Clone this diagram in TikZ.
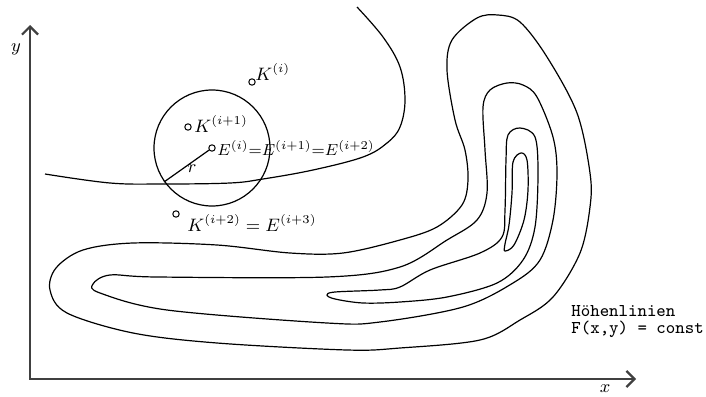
\documentclass[tikz,border=0pt]{standalone}
\usepackage{amsmath}
\usepackage{tikz}
\usetikzlibrary{positioning,arrows.meta}

\begin{document}
\begin{tikzpicture}[x=0.5pt,y=-0.5pt,font=\small,
  contour/.style={line width=0.6pt},
  axis/.style={line width=1.1pt,black!75,arrows={Straight Barb[length=4pt,width=8pt]-Straight Barb[length=4pt,width=8pt]}},
  marker/.style={circle,draw,line width=0.5pt,inner sep=0pt,minimum size=3.2pt},
  lbl/.style={inner sep=0pt,anchor=base west}]
  \useasboundingbox (0,0) rectangle (706,396);
  % axes
  \coordinate (O) at (30,379);
  \coordinate (ytop) at (30,25);
  \coordinate (xend) at (636,379);
  \draw[axis] (ytop) -- (O) -- (xend);
  \node (ylab) at (16,49) {$y$};
  \node (xlab) at (605,389) {$x$};
  % open level line
  \draw[contour] plot[smooth,tension=0.6] coordinates {(45,174) (110,183) (163,184) (230,183) (263,179) (313,170) (363,157) (387,143) (400,127) (405,100) (400,67) (383,37) (357,7)};
  % closed level lines
  \draw[contour] plot[smooth cycle,tension=0.55] coordinates {(50,290) (67,313) (133,333) (217,343) (347,350) (400,348) (480,340) (520,320) (553,297) (580,253) (590,207) (590,173) (577,113) (547,57) (520,22) (498,15) (477,18) (452,40) (447,70) (455,120) (465,150) (468,180) (462,205) (437,227) (400,240) (343,253) (290,253) (217,245) (133,243) (83,250) (56,268)};
  \draw[contour] plot[smooth cycle,tension=0.55] coordinates {(93,284) (100,293) (167,310) (327,323) (380,322) (463,307) (513,283) (540,260) (553,220) (557,173) (553,137) (537,97) (523,85) (507,83) (490,90) (483,107) (485,150) (487,193) (477,220) (447,240) (400,267) (327,277) (157,277) (110,275)};
  \draw[contour] plot[smooth cycle,tension=0.55] coordinates {(327,295) (335,299) (363,303) (400,302) (447,297) (497,283) (523,260) (535,227) (538,173) (535,137) (520,128) (508,135) (506,160) (505,210) (502,237) (480,253) (430,270) (400,287) (380,290) (335,292)};
  \draw[contour] plot[smooth cycle,tension=0.55] coordinates {(521,153) (527,160) (528,190) (524,220) (514,245) (505,251) (505,244) (509,225) (512,193) (513,162)};
  % trust region
  \node[circle,draw,line width=0.6pt,minimum size=58pt,inner sep=0pt] (region) at (212,148) {};
  \node[marker] (eI) at (region.center) {};
  \coordinate (rend) at (164,182);
  \draw[contour] (eI) -- (rend);
  \node (rlab) at (192,169) {$r$};
  \node[marker] (kI) at (252,82) {};
  \node[marker] (kII) at (188,127) {};
  \node[marker] (kIII) at (176,214) {};
  \node[lbl] (kIlab) at (255,80) {$K^{(i)}$};
  \node[lbl] (kIIlab) at (194,132) {$K^{(i+1)}$};
  \node[lbl,font=\footnotesize] (eIlab) at (217,155) {$E^{(i)}{=}E^{(i+1)}{=}E^{(i+2)}$};
  \node[lbl] (kIIIlab) at (187,231) {$K^{(i+2)} = E^{(i+3)}$};
  \node[inner sep=0pt,anchor=north west,align=left,font={\ttfamily\fontsize{9}{8.5}\selectfont}] (legend) at (571,305) {Höhenlinien\\F(x,y) = const};
\end{tikzpicture}
\end{document}
